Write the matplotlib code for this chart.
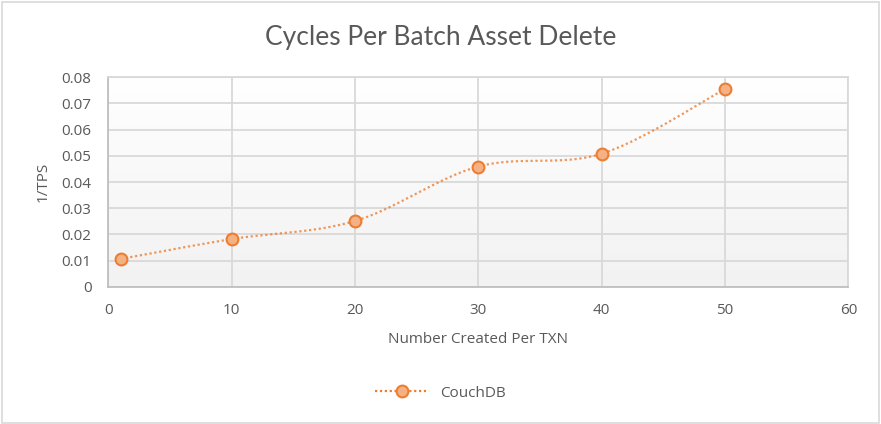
import numpy as np
import matplotlib
matplotlib.use("Agg")
import matplotlib.pyplot as plt
from matplotlib.patches import Rectangle
from matplotlib.lines import Line2D
from matplotlib.colors import LinearSegmentedColormap

# Data
x_vals = [1, 10, 20, 30, 40, 50]
y_vals = [0.0106, 0.0182, 0.0251, 0.0459, 0.0508, 0.0755]
series_name = "CouchDB"
title = "Cycles Per Batch Asset Delete"
xlabel = "Number Created Per TXN"
ylabel = "1/TPS"
x_ticks = [0, 10, 20, 30, 40, 50, 60]
y_ticks = [0, 0.01, 0.02, 0.03, 0.04, 0.05, 0.06, 0.07, 0.08]
y_tick_labels = ["0", "0.01", "0.02", "0.03", "0.04", "0.05", "0.06", "0.07", "0.08"]

plt.rcParams['font.family'] = ['Open Sans', 'DejaVu Sans']

ORANGE = "#ED7D31"
LIGHT = "#F4B183"
TXT = "#595959"
GRID = "#D9D9D9"


def smooth(xs, ys, n=40):
    # Excel-like smoothing: cubic Bezier with Catmull-Rom control points
    xs = np.asarray(xs, float); ys = np.asarray(ys, float)
    px, py = [], []
    N = len(xs)
    for i in range(N - 1):
        p0 = np.array([xs[max(i - 1, 0)], ys[max(i - 1, 0)]])
        p1 = np.array([xs[i], ys[i]])
        p2 = np.array([xs[i + 1], ys[i + 1]])
        p3 = np.array([xs[min(i + 2, N - 1)], ys[min(i + 2, N - 1)]])
        c1 = p1 + (p2 - p0) / 6.0
        c2 = p2 - (p3 - p1) / 6.0
        t = np.linspace(0, 1, n)[:, None]
        pts = ((1 - t) ** 3) * p1 + 3 * ((1 - t) ** 2) * t * c1 + 3 * (1 - t) * t ** 2 * c2 + t ** 3 * p2
        px.extend(pts[:, 0]); py.extend(pts[:, 1])
    return np.array(px), np.array(py)


fig = plt.figure(figsize=(8.81, 4.24), dpi=100)
fig.patch.set_facecolor("white")
fig.patches.append(Rectangle((0.002, 0.002), 0.996, 0.993, transform=fig.transFigure,
                             fill=False, edgecolor="#D9D9D9", linewidth=1.2))

ax = fig.add_axes([0.1229, 0.3238, 0.8400, 0.4939])
ax.set_xlim(0, 60)
ax.set_ylim(0, 0.08)

# gradient background
grad = np.linspace(1.0, 0.0, 256)[:, None]
cmap = LinearSegmentedColormap.from_list("g", ["#F2F2F2", "#FFFFFF"])
ax.imshow(grad, extent=[0, 60, 0, 0.08], aspect="auto", cmap=cmap, origin="upper",
          zorder=0, vmin=0, vmax=1)
ax.set_facecolor("white")

ax.set_xticks(x_ticks)
ax.set_yticks(y_ticks)
ax.set_yticklabels(y_tick_labels)
ax.grid(True, color=GRID, linewidth=1.3, zorder=1)
ax.set_axisbelow(True)
ax.tick_params(length=0, labelsize=11, colors=TXT)
ax.tick_params(axis="y", pad=12)
ax.tick_params(axis="x", pad=12)
for s in ["top", "right"]:
    ax.spines[s].set_color(GRID)
    ax.spines[s].set_linewidth(1.3)
for s in ["left", "bottom"]:
    ax.spines[s].set_color("#BFBFBF")
    ax.spines[s].set_linewidth(1.3)

sx, sy = smooth(x_vals, y_vals)
ax.plot(sx, sy, color=ORANGE, linestyle=(0, (1, 1.2)), linewidth=1.6, alpha=0.8, zorder=3)
ax.plot(x_vals, y_vals, linestyle="none", marker="o", markersize=8.5,
        markerfacecolor=LIGHT, markeredgecolor=ORANGE, markeredgewidth=1.5, zorder=4)

fig.text(0.5, 1 - 37 / 424, title, fontsize=19, color=TXT, ha="center", va="center",
         family=["Lato", "DejaVu Sans"])
ax.set_xlabel(xlabel, fontsize=11, color=TXT, labelpad=10)
ax.set_ylabel(ylabel, fontsize=11, color=TXT, labelpad=8)

handle = Line2D([0], [0], color=ORANGE, linestyle=(0, (1, 1.2)), linewidth=1.6,
                marker="o", markersize=8.5, markerfacecolor=LIGHT,
                markeredgecolor=ORANGE, markeredgewidth=1.5)
fig.legend([handle], [series_name], loc="center", bbox_to_anchor=(0.5, 0.073),
           frameon=False, fontsize=11, labelcolor=TXT, handlelength=3.5)

fig.savefig("out.png", dpi=100)
